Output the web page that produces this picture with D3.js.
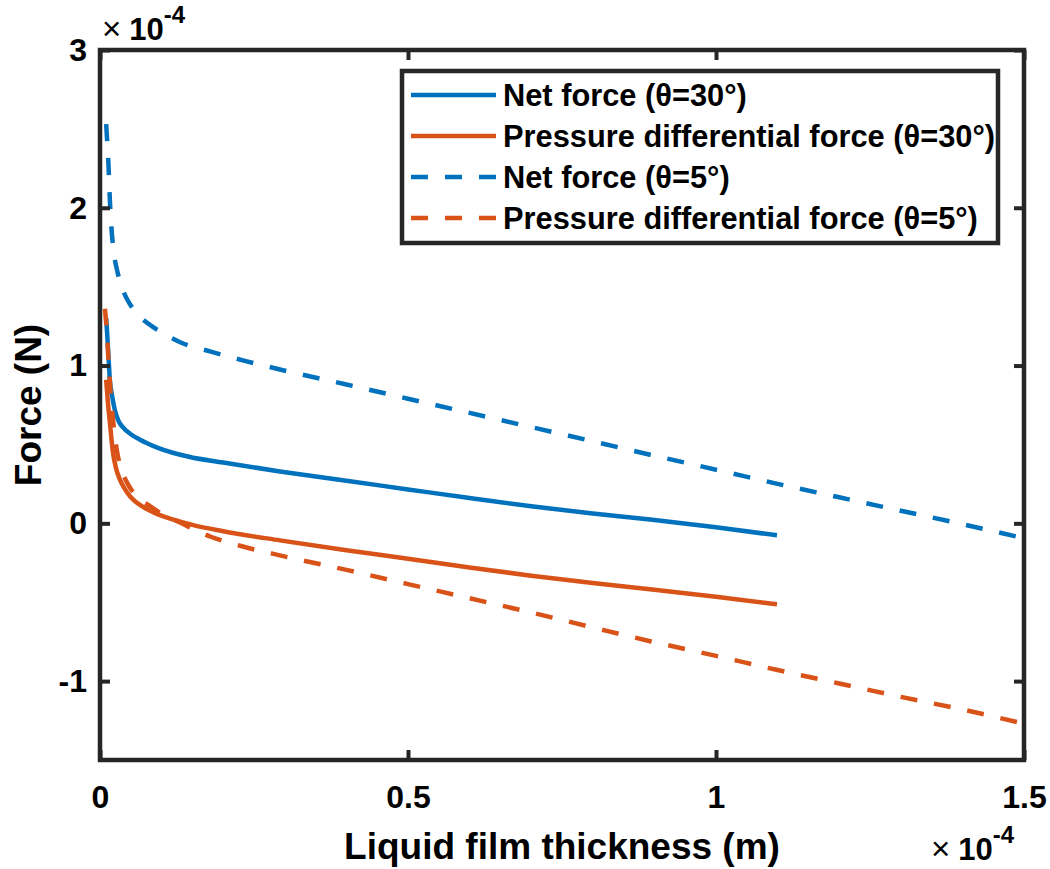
<!DOCTYPE html>
<html>
<head>
<meta charset="utf-8">
<script src="https://cdn.jsdelivr.net/npm/d3@7"></script>
<style>
  html, body { margin: 0; padding: 0; background: #fff; }
  svg { display: block; }
  text { font-family: "Liberation Sans", Arial, Helvetica, sans-serif; font-weight: bold; fill: #000; }
</style>
</head>
<body>
<svg id="chart" width="1050" height="869"></svg>
<script>
// Film thickness (x 1e-4 m) and force (x 1e-4 N) for each series
const netForce30X = [0.010, 0.012, 0.014, 0.016, 0.020, 0.024, 0.030, 0.037, 0.050, 0.065, 0.093, 0.146, 0.200, 0.292, 0.400, 0.500, 0.600, 0.700, 0.800, 0.893, 1.000, 1.099];
const netForce30Y = [1.30, 1.18, 1.04, 0.91, 0.80, 0.72, 0.65, 0.61, 0.565, 0.53, 0.48, 0.42, 0.385, 0.329, 0.27, 0.215, 0.16, 0.108, 0.062, 0.025, -0.025, -0.076];

const pressure30X = [0.010, 0.013, 0.016, 0.021, 0.026, 0.032, 0.040, 0.049, 0.060, 0.076, 0.095, 0.118, 0.150, 0.200, 0.292, 0.400, 0.500, 0.600, 0.700, 0.800, 0.893, 1.000, 1.099];
const pressure30Y = [0.91, 0.76, 0.64, 0.45, 0.35, 0.28, 0.22, 0.17, 0.13, 0.09, 0.055, 0.025, -0.01, -0.05, -0.108, -0.17, -0.225, -0.28, -0.332, -0.378, -0.418, -0.465, -0.513];

const netForce5X = [0.010, 0.012, 0.014, 0.016, 0.019, 0.023, 0.028, 0.035, 0.044, 0.060, 0.084, 0.100, 0.130, 0.180, 0.235, 0.292, 0.400, 0.500, 0.600, 0.700, 0.800, 0.893, 1.000, 1.100, 1.200, 1.300, 1.400, 1.489];
const netForce5Y = [2.53, 2.40, 2.25, 2.05, 1.85, 1.70, 1.60, 1.50, 1.42, 1.33, 1.25, 1.21, 1.148, 1.088, 1.03, 0.975, 0.88, 0.79, 0.70, 0.61, 0.52, 0.435, 0.34, 0.25, 0.165, 0.08, -0.005, -0.085];

const pressure5X = [0.008, 0.011, 0.014, 0.017, 0.021, 0.027, 0.035, 0.045, 0.060, 0.081, 0.100, 0.127, 0.180, 0.235, 0.292, 0.400, 0.500, 0.600, 0.700, 0.800, 0.893, 1.000, 1.100, 1.200, 1.300, 1.400, 1.489];
const pressure5Y = [1.36, 1.22, 1.02, 0.84, 0.66, 0.47, 0.34, 0.25, 0.17, 0.11, 0.06, 0.01, -0.085, -0.15, -0.203, -0.295, -0.385, -0.475, -0.565, -0.66, -0.747, -0.84, -0.93, -1.015, -1.10, -1.18, -1.26];

const seriesNames = [
  "Net force (θ=30°)",
  "Pressure differential force (θ=30°)",
  "Net force (θ=5°)",
  "Pressure differential force (θ=5°)"
];

const xTicks = [0, 0.5, 1, 1.5];
const xTickLabels = ["0", "0.5", "1", "1.5"];
const yTicks = [-1, 0, 1, 2, 3];
const yTickLabels = ["-1", "0", "1", "2", "3"];

const xLabel = "Liquid film thickness (m)";
const yLabel = "Force (N)";

(function draw() {
  const blue = "#0072BD", orange = "#D95319", ink = "#262626";
  const pL = 100, pR = 1024, pT = 50, pB = 760;

  const svg = d3.select("#chart");
  const x = d3.scaleLinear().domain([0, 1.5]).range([pL, pR]);
  const y = d3.scaleLinear().domain([-1.5, 3]).range([pB, pT]);

  const zip = (xs, ys) => xs.map((v, i) => [v, ys[i]]);
  const series = [
    { name: seriesNames[0], pts: zip(netForce30X, netForce30Y), color: blue, dash: null },
    { name: seriesNames[1], pts: zip(pressure30X, pressure30Y), color: orange, dash: null },
    { name: seriesNames[2], pts: zip(netForce5X, netForce5Y), color: blue, dash: "17,17" },
    { name: seriesNames[3], pts: zip(pressure5X, pressure5Y), color: orange, dash: "17,17" }
  ];

  svg.append("defs").append("clipPath").attr("id", "plot-clip")
    .append("rect").attr("x", pL).attr("y", pT)
    .attr("width", pR - pL).attr("height", pB - pT);

  // curves
  const line = d3.line().x(d => x(d[0])).y(d => y(d[1])).curve(d3.curveMonotoneX);
  const plot = svg.append("g").attr("clip-path", "url(#plot-clip)");
  plot.selectAll("path.series").data(series).join("path")
    .attr("class", "series")
    .attr("d", d => line(d.pts))
    .attr("fill", "none")
    .attr("stroke", d => d.color)
    .attr("stroke-width", 4.5)
    .attr("stroke-linejoin", "round")
    .attr("stroke-dasharray", d => d.dash);

  // axes: ticks point inward on all four sides
  const tickFont = 32;
  function styleAxis(g) {
    g.select(".domain").remove();
    g.selectAll(".tick line").attr("stroke", ink).attr("stroke-width", 4);
    g.selectAll(".tick text").attr("font-size", tickFont).attr("fill", "#000")
      .style("font-family", "'Liberation Sans', Arial, sans-serif").style("font-weight", "bold");
  }

  svg.append("g").attr("transform", `translate(0,${pB})`)
    .call(d3.axisBottom(x).tickValues(xTicks).tickSizeInner(-10).tickSizeOuter(0)
      .tickPadding(25).tickFormat((d, i) => xTickLabels[i]))
    .call(styleAxis);

  svg.append("g").attr("transform", `translate(0,${pT})`)
    .call(d3.axisTop(x).tickValues(xTicks).tickSizeInner(-10).tickSizeOuter(0).tickFormat(""))
    .call(styleAxis);

  svg.append("g").attr("transform", `translate(${pL},0)`)
    .call(d3.axisLeft(y).tickValues(yTicks).tickSizeInner(-10).tickSizeOuter(0)
      .tickPadding(13).tickFormat((d, i) => yTickLabels[i]))
    .call(styleAxis);

  svg.append("g").attr("transform", `translate(${pR},0)`)
    .call(d3.axisRight(y).tickValues(yTicks).tickSizeInner(-10).tickSizeOuter(0).tickFormat(""))
    .call(styleAxis);

  // axes box
  svg.append("rect")
    .attr("x", pL).attr("y", pT)
    .attr("width", pR - pL).attr("height", pB - pT)
    .attr("fill", "none").attr("stroke", ink).attr("stroke-width", 4.5);

  // axis titles
  svg.append("text")
    .attr("x", 562).attr("y", 859)
    .attr("text-anchor", "middle").attr("font-size", 37)
    .text(xLabel);

  svg.append("text")
    .attr("transform", `translate(41,${(pT + pB) / 2}) rotate(-90)`)
    .attr("text-anchor", "middle").attr("font-size", 37)
    .text(yLabel);

  // exponent multipliers
  function multiplier(xPos, baseY) {
    const t = svg.append("text").attr("x", xPos).attr("y", baseY).attr("font-size", 31);
    t.append("tspan").attr("font-weight", "normal").attr("font-size", 33).text("×");
    t.append("tspan").attr("dx", 8).text("10");
    t.append("tspan").attr("font-size", 24).attr("dy", -17).text("-4");
  }
  multiplier(102, 40);
  multiplier(931, 860);

  // legend
  const lg = { x0: 402, y0: 71, x1: 998, y1: 243 };
  const legend = svg.append("g");
  legend.append("rect")
    .attr("x", lg.x0).attr("y", lg.y0)
    .attr("width", lg.x1 - lg.x0).attr("height", lg.y1 - lg.y0)
    .attr("fill", "#fff").attr("stroke", ink).attr("stroke-width", 4.5);

  const rowY = d3.scalePoint().domain(series.map(d => d.name)).range([95, 218]);
  const rows = legend.selectAll("g.row").data(series).join("g")
    .attr("class", "row")
    .attr("transform", d => `translate(0,${rowY(d.name)})`);
  rows.append("line")
    .attr("x1", 411).attr("x2", 496)
    .attr("stroke", d => d.color).attr("stroke-width", 4.5)
    .attr("stroke-dasharray", d => d.dash);
  rows.append("text")
    .attr("x", 503).attr("y", 11)
    .attr("font-size", 30.8)
    .text(d => d.name);
})();
</script>
</body>
</html>
